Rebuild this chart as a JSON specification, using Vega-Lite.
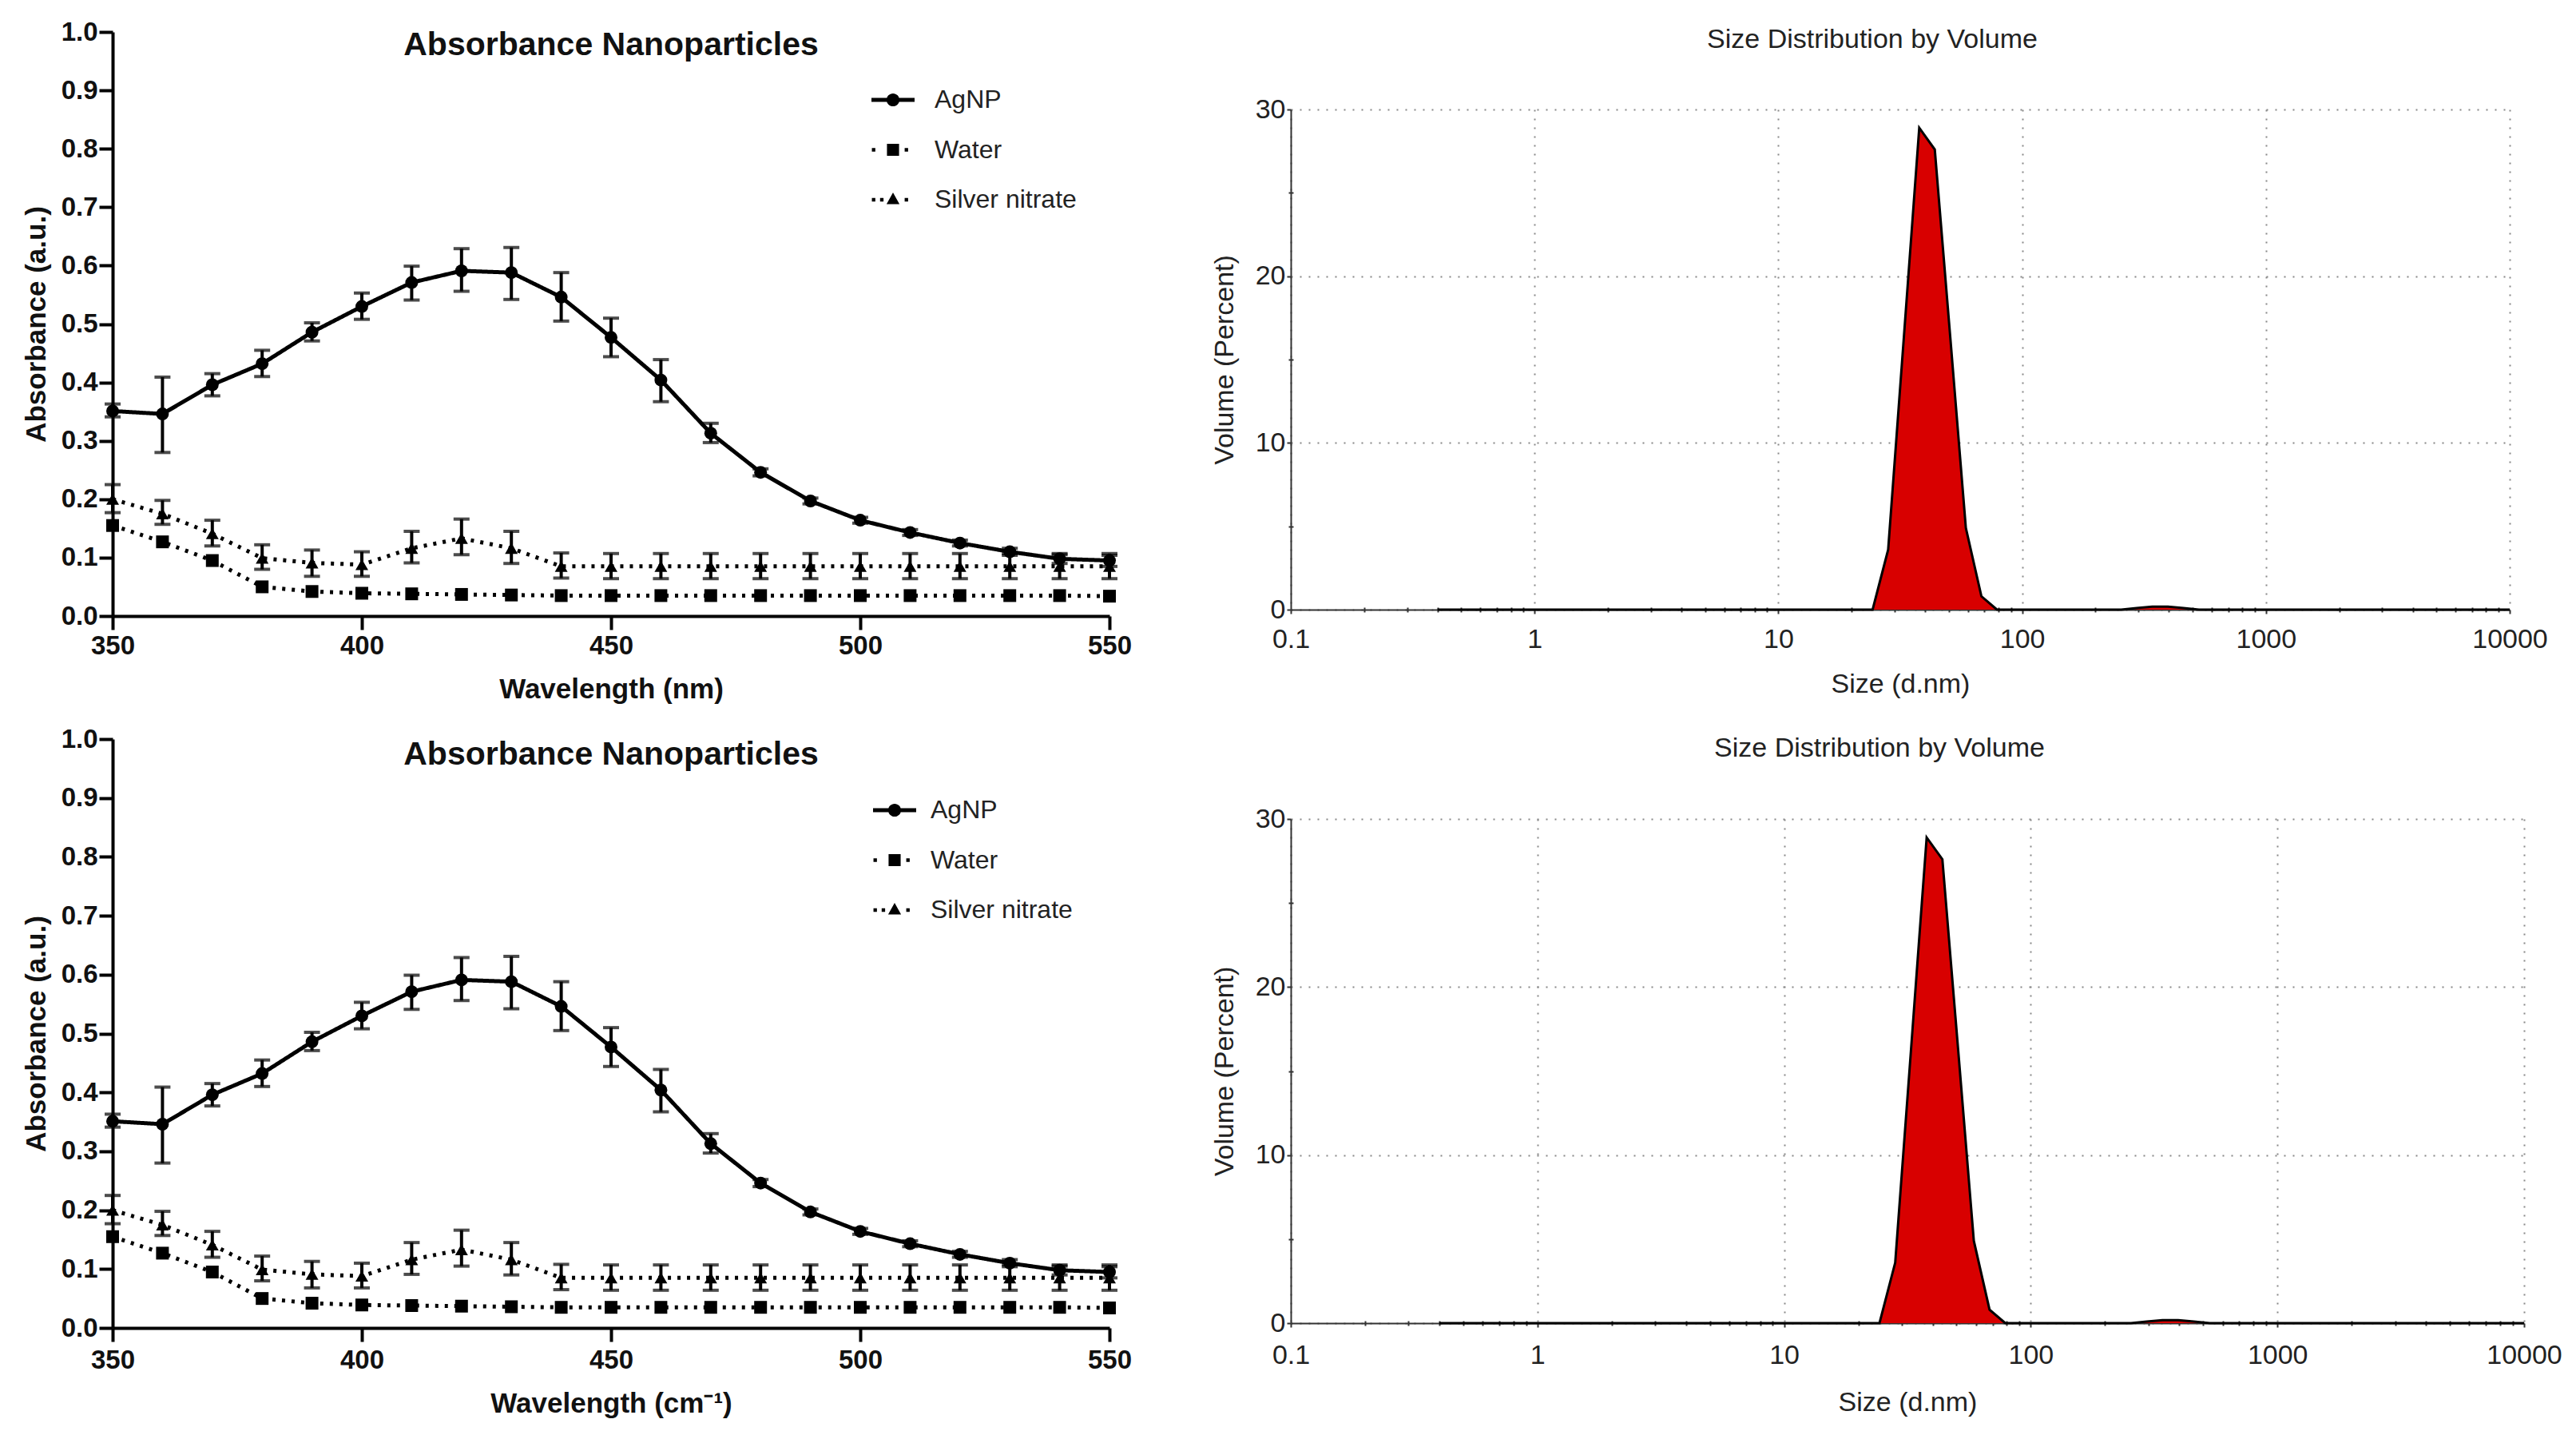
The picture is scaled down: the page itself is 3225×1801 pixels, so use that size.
{
  "$schema": "https://vega.github.io/schema/vega-lite/v6.json",
  "padding": {"left": 28, "top": 24, "right": 5, "bottom": 5},
  "background": "white",
  "config": {"view": {"stroke": null}, "font": "Liberation Sans"},
  "datasets": {
    "abs": [
      {"wl": 350, "series": "AgNP", "val": 0.351, "lo": 0.341, "hi": 0.363},
      {"wl": 360, "series": "AgNP", "val": 0.346, "lo": 0.280, "hi": 0.409},
      {"wl": 370, "series": "AgNP", "val": 0.396, "lo": 0.377, "hi": 0.415},
      {"wl": 380, "series": "AgNP", "val": 0.432, "lo": 0.410, "hi": 0.455},
      {"wl": 390, "series": "AgNP", "val": 0.486, "lo": 0.471, "hi": 0.502},
      {"wl": 400, "series": "AgNP", "val": 0.530, "lo": 0.508, "hi": 0.553},
      {"wl": 410, "series": "AgNP", "val": 0.571, "lo": 0.541, "hi": 0.599},
      {"wl": 420, "series": "AgNP", "val": 0.591, "lo": 0.556, "hi": 0.629},
      {"wl": 430, "series": "AgNP", "val": 0.588, "lo": 0.542, "hi": 0.631},
      {"wl": 440, "series": "AgNP", "val": 0.546, "lo": 0.505, "hi": 0.588},
      {"wl": 450, "series": "AgNP", "val": 0.477, "lo": 0.444, "hi": 0.510},
      {"wl": 460, "series": "AgNP", "val": 0.404, "lo": 0.367, "hi": 0.439},
      {"wl": 470, "series": "AgNP", "val": 0.313, "lo": 0.297, "hi": 0.330},
      {"wl": 480, "series": "AgNP", "val": 0.246, "lo": 0.240, "hi": 0.252},
      {"wl": 490, "series": "AgNP", "val": 0.197, "lo": 0.192, "hi": 0.202},
      {"wl": 500, "series": "AgNP", "val": 0.164, "lo": 0.159, "hi": 0.169},
      {"wl": 510, "series": "AgNP", "val": 0.143, "lo": 0.138, "hi": 0.148},
      {"wl": 520, "series": "AgNP", "val": 0.125, "lo": 0.120, "hi": 0.130},
      {"wl": 530, "series": "AgNP", "val": 0.110, "lo": 0.104, "hi": 0.116},
      {"wl": 540, "series": "AgNP", "val": 0.098, "lo": 0.090, "hi": 0.105},
      {"wl": 550, "series": "AgNP", "val": 0.095, "lo": 0.085, "hi": 0.104},
      {"wl": 350, "series": "Water", "val": 0.155},
      {"wl": 360, "series": "Water", "val": 0.127},
      {"wl": 370, "series": "Water", "val": 0.095},
      {"wl": 380, "series": "Water", "val": 0.050},
      {"wl": 390, "series": "Water", "val": 0.042},
      {"wl": 400, "series": "Water", "val": 0.039},
      {"wl": 410, "series": "Water", "val": 0.038},
      {"wl": 420, "series": "Water", "val": 0.037},
      {"wl": 430, "series": "Water", "val": 0.036},
      {"wl": 440, "series": "Water", "val": 0.035},
      {"wl": 450, "series": "Water", "val": 0.035},
      {"wl": 460, "series": "Water", "val": 0.035},
      {"wl": 470, "series": "Water", "val": 0.035},
      {"wl": 480, "series": "Water", "val": 0.035},
      {"wl": 490, "series": "Water", "val": 0.035},
      {"wl": 500, "series": "Water", "val": 0.035},
      {"wl": 510, "series": "Water", "val": 0.035},
      {"wl": 520, "series": "Water", "val": 0.035},
      {"wl": 530, "series": "Water", "val": 0.035},
      {"wl": 540, "series": "Water", "val": 0.035},
      {"wl": 550, "series": "Water", "val": 0.034},
      {"wl": 350, "series": "Silver nitrate", "val": 0.200, "lo": 0.177, "hi": 0.225},
      {"wl": 360, "series": "Silver nitrate", "val": 0.175, "lo": 0.157, "hi": 0.198},
      {"wl": 370, "series": "Silver nitrate", "val": 0.141, "lo": 0.120, "hi": 0.164},
      {"wl": 380, "series": "Silver nitrate", "val": 0.099, "lo": 0.080, "hi": 0.122},
      {"wl": 390, "series": "Silver nitrate", "val": 0.091, "lo": 0.068, "hi": 0.113},
      {"wl": 400, "series": "Silver nitrate", "val": 0.088, "lo": 0.068, "hi": 0.110},
      {"wl": 410, "series": "Silver nitrate", "val": 0.116, "lo": 0.091, "hi": 0.145},
      {"wl": 420, "series": "Silver nitrate", "val": 0.133, "lo": 0.105, "hi": 0.166},
      {"wl": 430, "series": "Silver nitrate", "val": 0.116, "lo": 0.090, "hi": 0.145},
      {"wl": 440, "series": "Silver nitrate", "val": 0.085, "lo": 0.065, "hi": 0.108},
      {"wl": 450, "series": "Silver nitrate", "val": 0.085, "lo": 0.064, "hi": 0.107},
      {"wl": 460, "series": "Silver nitrate", "val": 0.085, "lo": 0.064, "hi": 0.107},
      {"wl": 470, "series": "Silver nitrate", "val": 0.085, "lo": 0.064, "hi": 0.107},
      {"wl": 480, "series": "Silver nitrate", "val": 0.085, "lo": 0.064, "hi": 0.107},
      {"wl": 490, "series": "Silver nitrate", "val": 0.085, "lo": 0.064, "hi": 0.107},
      {"wl": 500, "series": "Silver nitrate", "val": 0.085, "lo": 0.064, "hi": 0.107},
      {"wl": 510, "series": "Silver nitrate", "val": 0.085, "lo": 0.064, "hi": 0.107},
      {"wl": 520, "series": "Silver nitrate", "val": 0.085, "lo": 0.064, "hi": 0.107},
      {"wl": 530, "series": "Silver nitrate", "val": 0.085, "lo": 0.064, "hi": 0.107},
      {"wl": 540, "series": "Silver nitrate", "val": 0.085, "lo": 0.064, "hi": 0.107},
      {"wl": 550, "series": "Silver nitrate", "val": 0.085, "lo": 0.064, "hi": 0.107}
    ],
    "dls": [
      {"size": 0.4, "vol": 0},
      {"size": 24.36, "vol": 0},
      {"size": 28.21, "vol": 3.6},
      {"size": 32.67, "vol": 16.2},
      {"size": 37.84, "vol": 28.9},
      {"size": 43.82, "vol": 27.6},
      {"size": 50.75, "vol": 16.3},
      {"size": 58.77, "vol": 4.9},
      {"size": 68.06, "vol": 0.8},
      {"size": 78.82, "vol": 0},
      {"size": 255.0, "vol": 0},
      {"size": 295.3, "vol": 0.1},
      {"size": 342.0, "vol": 0.18},
      {"size": 396.1, "vol": 0.18},
      {"size": 458.7, "vol": 0.1},
      {"size": 531.2, "vol": 0},
      {"size": 10000, "vol": 0}
    ],
    "none": [{}]
  },
  "spacing": 99,
  "hconcat": [
    {
      "spacing": 29,
      "vconcat": [
        {
          "width": 1248,
          "height": 731,
          "title": {"text": "Absorbance Nanoparticles", "fontSize": 41, "fontWeight": "bold", "font": "Liberation Sans", "color": "#111", "offset": -54, "anchor": "middle"},
          "data": {"name": "abs"},
          "layer": [
            {
              "mark": {"type": "line", "color": "black", "strokeWidth": 5},
              "encoding": {
                "x": {"field": "wl", "type": "quantitative", "scale": {"domain": [350, 550], "padding": 0, "nice": false}, "axis": {"title": "Wavelength (nm)", "values": [350, 400, 450, 500, 550], "grid": false, "domainWidth": 4, "domainColor": "black", "tickWidth": 4, "tickSize": 17, "tickColor": "black", "labelFontSize": 33, "labelFontWeight": "bold", "labelPadding": 4, "labelColor": "#111", "labelFlush": false, "titleFontSize": 35, "titleFontWeight": "bold", "titlePadding": 20, "titleColor": "#111"}},
                "y": {"field": "val", "type": "quantitative", "scale": {"domain": [0, 1]}, "axis": {"title": "Absorbance (a.u.)", "values": [0, 0.1, 0.2, 0.3, 0.4, 0.5, 0.6, 0.7, 0.8, 0.9, 1.0], "format": ".1f", "grid": false, "domainWidth": 4, "domainColor": "black", "tickWidth": 4, "tickSize": 17, "tickColor": "black", "labelFontSize": 33, "labelFontWeight": "bold", "labelPadding": 2, "labelColor": "#111", "labelFlush": false, "titleFontSize": 35, "titleFontWeight": "bold", "titlePadding": 13, "titleColor": "#111"}},
                "strokeDash": {"field": "series", "type": "nominal", "scale": {"domain": ["AgNP", "Water", "Silver nitrate"], "range": [[1, 0], [4, 8], [4, 8]]}, "legend": null}
              }
            },
            {
              "transform": [{"filter": "isValid(datum.lo)"}],
              "mark": {"type": "errorbar", "color": "black", "thickness": 4, "ticks": {"size": 20}},
              "encoding": {
                "x": {"field": "wl", "type": "quantitative", "title": "Wavelength (nm)"},
                "y": {"field": "lo", "type": "quantitative", "title": "Absorbance (a.u.)"},
                "y2": {"field": "hi"}
              }
            },
            {
              "mark": {"type": "point", "filled": true, "size": 256, "color": "black", "opacity": 1},
              "encoding": {
                "x": {"field": "wl", "type": "quantitative", "title": "Wavelength (nm)"},
                "y": {"field": "val", "type": "quantitative", "title": "Absorbance (a.u.)"},
                "shape": {"field": "series", "type": "nominal", "scale": {"domain": ["AgNP", "Water", "Silver nitrate"], "range": ["circle", "square", "triangle-up"]}, "legend": null}
              }
            },
            {
              "mark": {"type": "point", "filled": true, "color": "black", "opacity": 0},
              "encoding": {
                "x": {"field": "wl", "type": "quantitative", "title": "Wavelength (nm)"},
                "y": {"field": "val", "type": "quantitative", "title": "Absorbance (a.u.)"},
                "shape": {"field": "series", "type": "nominal", "scale": {"domain": ["AgNP", "Water", "Silver nitrate"], "range": ["M-1,-0.09H1V0.09H-1ZM0.3,0A0.3,0.3,0,1,1,-0.3,0A0.3,0.3,0,1,1,0.3,0Z", "M-0.98,-0.08H-0.82V0.08H-0.98ZM0.54,-0.08H0.7V0.08H0.54ZM-0.28,-0.28H0.28V0.28H-0.28Z", "M-0.98,-0.08H-0.82V0.08H-0.98ZM-0.6,-0.08H-0.44V0.08H-0.6ZM0.54,-0.08H0.7V0.08H0.54ZM0,-0.33L0.3,0.2L-0.3,0.2Z"]}, "legend": {"title": null, "orient": "none", "legendX": 950, "legendY": 58, "symbolSize": 2916, "symbolOpacity": 1, "symbolFillColor": "black", "symbolStrokeWidth": 0, "labelFontSize": 32, "labelFont": "Liberation Sans", "labelColor": "#222", "labelOffset": 25, "padding": 0, "symbolOffset": 0, "rowPadding": 19.5, "labelLimit": 400}}
              }
            }
          ],
          "resolve": {"scale": {"shape": "independent"}}
        },
        {
          "width": 1248,
          "height": 737,
          "title": {"text": "Absorbance Nanoparticles", "fontSize": 41, "fontWeight": "bold", "font": "Liberation Sans", "color": "#111", "offset": -57, "anchor": "middle"},
          "data": {"name": "abs"},
          "layer": [
            {
              "mark": {"type": "line", "color": "black", "strokeWidth": 5},
              "encoding": {
                "x": {"field": "wl", "type": "quantitative", "scale": {"domain": [350, 550], "padding": 0, "nice": false}, "axis": {"title": "Wavelength (cm⁻¹)", "values": [350, 400, 450, 500, 550], "grid": false, "domainWidth": 4, "domainColor": "black", "tickWidth": 4, "tickSize": 17, "tickColor": "black", "labelFontSize": 33, "labelFontWeight": "bold", "labelPadding": 7, "labelColor": "#111", "labelFlush": false, "titleFontSize": 35, "titleFontWeight": "bold", "titlePadding": 20, "titleColor": "#111"}},
                "y": {"field": "val", "type": "quantitative", "scale": {"domain": [0, 1]}, "axis": {"title": "Absorbance (a.u.)", "values": [0, 0.1, 0.2, 0.3, 0.4, 0.5, 0.6, 0.7, 0.8, 0.9, 1.0], "format": ".1f", "grid": false, "domainWidth": 4, "domainColor": "black", "tickWidth": 4, "tickSize": 17, "tickColor": "black", "labelFontSize": 33, "labelFontWeight": "bold", "labelPadding": 2, "labelColor": "#111", "labelFlush": false, "titleFontSize": 35, "titleFontWeight": "bold", "titlePadding": 13, "titleColor": "#111"}},
                "strokeDash": {"field": "series", "type": "nominal", "scale": {"domain": ["AgNP", "Water", "Silver nitrate"], "range": [[1, 0], [4, 8], [4, 8]]}, "legend": null}
              }
            },
            {
              "transform": [{"filter": "isValid(datum.lo)"}],
              "mark": {"type": "errorbar", "color": "black", "thickness": 4, "ticks": {"size": 20}},
              "encoding": {
                "x": {"field": "wl", "type": "quantitative", "title": "Wavelength (cm⁻¹)"},
                "y": {"field": "lo", "type": "quantitative", "title": "Absorbance (a.u.)"},
                "y2": {"field": "hi"}
              }
            },
            {
              "mark": {"type": "point", "filled": true, "size": 256, "color": "black", "opacity": 1},
              "encoding": {
                "x": {"field": "wl", "type": "quantitative", "title": "Wavelength (cm⁻¹)"},
                "y": {"field": "val", "type": "quantitative", "title": "Absorbance (a.u.)"},
                "shape": {"field": "series", "type": "nominal", "scale": {"domain": ["AgNP", "Water", "Silver nitrate"], "range": ["circle", "square", "triangle-up"]}, "legend": null}
              }
            },
            {
              "mark": {"type": "point", "filled": true, "color": "black", "opacity": 0},
              "encoding": {
                "x": {"field": "wl", "type": "quantitative", "title": "Wavelength (cm⁻¹)"},
                "y": {"field": "val", "type": "quantitative", "title": "Absorbance (a.u.)"},
                "shape": {"field": "series", "type": "nominal", "scale": {"domain": ["AgNP", "Water", "Silver nitrate"], "range": ["M-1,-0.09H1V0.09H-1ZM0.3,0A0.3,0.3,0,1,1,-0.3,0A0.3,0.3,0,1,1,0.3,0Z", "M-0.98,-0.08H-0.82V0.08H-0.98ZM0.54,-0.08H0.7V0.08H0.54ZM-0.28,-0.28H0.28V0.28H-0.28Z", "M-0.98,-0.08H-0.82V0.08H-0.98ZM-0.6,-0.08H-0.44V0.08H-0.6ZM0.54,-0.08H0.7V0.08H0.54ZM0,-0.33L0.3,0.2L-0.3,0.2Z"]}, "legend": {"title": null, "orient": "none", "legendX": 952, "legendY": 62, "symbolSize": 2916, "symbolOpacity": 1, "symbolFillColor": "black", "symbolStrokeWidth": 0, "labelFontSize": 32, "labelFont": "Liberation Sans", "labelColor": "#222", "labelOffset": 18, "padding": 0, "symbolOffset": 0, "rowPadding": 19.5, "labelLimit": 400}}
              }
            }
          ],
          "resolve": {"scale": {"shape": "independent"}}
        }
      ]
    },
    {
      "spacing": 47,
      "vconcat": [
        {
          "width": 1526,
          "height": 33,
          "title": {"text": "Size Distribution by Volume", "fontSize": 34, "fontWeight": "normal", "font": "Liberation Sans", "color": "#222", "offset": -27, "dx": -35, "anchor": "middle"},
          "data": {"name": "none"},
          "mark": {"type": "text", "text": ""}
        },
        {
          "width": 1526,
          "height": 626,
          "data": {"name": "dls"},
          "layer": [
            {
              "mark": {"type": "area", "color": "#d80000", "opacity": 1, "line": {"color": "black", "strokeWidth": 3}},
              "encoding": {
                "x": {"field": "size", "type": "quantitative", "scale": {"type": "log", "domain": [0.1, 10000]}, "axis": {"title": "Size (d.nm)", "values": [0.1, 1, 10, 100, 1000, 10000], "format": "~g", "grid": true, "gridDash": [2, 9], "gridColor": "#888", "gridWidth": 2, "domainColor": "#333", "domainWidth": 2, "tickColor": "#333", "tickSize": 5, "tickWidth": 2, "labelFontSize": 34, "labelPadding": 15, "labelColor": "#222", "labelFlush": false, "titleFontSize": 34, "titleFontWeight": "normal", "titlePadding": 22, "titleColor": "#222"}},
                "y": {"field": "vol", "type": "quantitative", "scale": {"domain": [0, 30]}, "axis": {"title": "Volume (Percent)", "values": [0, 10, 20, 30], "grid": true, "gridDash": [2, 9], "gridColor": "#888", "gridWidth": 2, "domainColor": "#333", "domainWidth": 2, "tickColor": "#333", "tickSize": 5, "tickWidth": 2, "labelFontSize": 34, "labelPadding": 2, "labelColor": "#222", "labelFlush": false, "titleFontSize": 34, "titleFontWeight": "normal", "titlePadding": 21, "titleColor": "#222"}}
              }
            },
            {
              "mark": {"type": "point", "opacity": 0, "size": 1},
              "encoding": {
                "x": {"field": "size", "type": "quantitative", "axis": {"orient": "bottom", "title": null, "labels": false, "domain": false, "grid": false, "offset": -3, "tickSize": 6, "tickWidth": 2, "tickColor": "#333", "values": [0.2, 0.3, 0.4, 0.5, 0.6, 0.7, 0.8, 0.9, 2, 3, 4, 5, 6, 7, 8, 9, 20, 30, 40, 50, 60, 70, 80, 90, 200, 300, 400, 500, 600, 700, 800, 900, 2000, 3000, 4000, 5000, 6000, 7000, 8000, 9000]}},
                "y": {"field": "vol", "type": "quantitative", "axis": {"orient": "left", "title": null, "labels": false, "domain": false, "grid": false, "offset": -3, "tickSize": 6, "tickWidth": 2, "tickColor": "#333", "values": [5, 15, 25]}}
              }
            }
          ],
          "resolve": {"axis": {"x": "independent", "y": "independent"}}
        },
        {
          "width": 1544,
          "height": 631,
          "title": {"text": "Size Distribution by Volume", "fontSize": 34, "fontWeight": "normal", "font": "Liberation Sans", "color": "#222", "offset": 54, "dx": -35, "anchor": "middle"},
          "data": {"name": "dls"},
          "layer": [
            {
              "mark": {"type": "area", "color": "#d80000", "opacity": 1, "line": {"color": "black", "strokeWidth": 3}},
              "encoding": {
                "x": {"field": "size", "type": "quantitative", "scale": {"type": "log", "domain": [0.1, 10000]}, "axis": {"title": "Size (d.nm)", "values": [0.1, 1, 10, 100, 1000, 10000], "format": "~g", "grid": true, "gridDash": [2, 9], "gridColor": "#888", "gridWidth": 2, "domainColor": "#333", "domainWidth": 2, "tickColor": "#333", "tickSize": 5, "tickWidth": 2, "labelFontSize": 34, "labelPadding": 18, "labelColor": "#222", "labelFlush": false, "titleFontSize": 34, "titleFontWeight": "normal", "titlePadding": 25, "titleColor": "#222"}},
                "y": {"field": "vol", "type": "quantitative", "scale": {"domain": [0, 30]}, "axis": {"title": "Volume (Percent)", "values": [0, 10, 20, 30], "grid": true, "gridDash": [2, 9], "gridColor": "#888", "gridWidth": 2, "domainColor": "#333", "domainWidth": 2, "tickColor": "#333", "tickSize": 5, "tickWidth": 2, "labelFontSize": 34, "labelPadding": 2, "labelColor": "#222", "labelFlush": false, "titleFontSize": 34, "titleFontWeight": "normal", "titlePadding": 21, "titleColor": "#222"}}
              }
            },
            {
              "mark": {"type": "point", "opacity": 0, "size": 1},
              "encoding": {
                "x": {"field": "size", "type": "quantitative", "axis": {"orient": "bottom", "title": null, "labels": false, "domain": false, "grid": false, "offset": -3, "tickSize": 6, "tickWidth": 2, "tickColor": "#333", "values": [0.2, 0.3, 0.4, 0.5, 0.6, 0.7, 0.8, 0.9, 2, 3, 4, 5, 6, 7, 8, 9, 20, 30, 40, 50, 60, 70, 80, 90, 200, 300, 400, 500, 600, 700, 800, 900, 2000, 3000, 4000, 5000, 6000, 7000, 8000, 9000]}},
                "y": {"field": "vol", "type": "quantitative", "axis": {"orient": "left", "title": null, "labels": false, "domain": false, "grid": false, "offset": -3, "tickSize": 6, "tickWidth": 2, "tickColor": "#333", "values": [5, 15, 25]}}
              }
            }
          ],
          "resolve": {"axis": {"x": "independent", "y": "independent"}}
        }
      ]
    }
  ]
}
